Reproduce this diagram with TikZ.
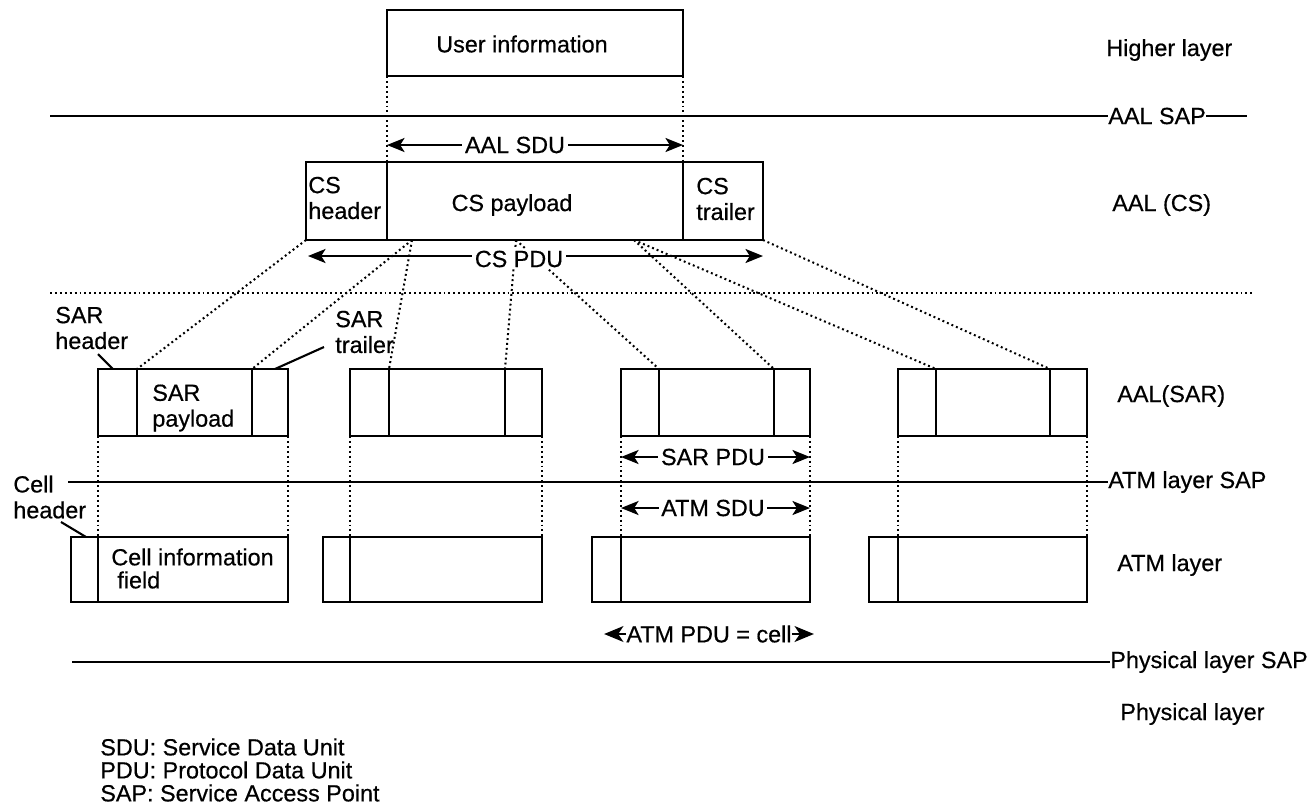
\documentclass[tikz,border=0pt]{standalone}
\usepackage{fontspec}
\setmainfont{Liberation Sans}[FakeBold=0.5]
\usetikzlibrary{arrows.meta}
\begin{document}
\begin{tikzpicture}[x=0.02cm,y=-0.02cm,
  box/.style={line width=1.3pt},
  sap/.style={line width=1.4pt},
  dots/.style={line width=1.15pt, dash pattern=on 1.1pt off 1.7pt},
  lbl/.style={font=\fontsize{13.3}{14.7}\selectfont, inner sep=0pt, align=left},
  wl/.style={lbl, anchor=west},
  tag/.style={lbl, fill=white, inner xsep=1.5pt, inner ysep=1pt},
  span/.style={line width=1.2pt, {Stealth[length=10pt,width=8pt,inset=2.5pt]}-{Stealth[length=10pt,width=8pt,inset=2.5pt]}},
  leader/.style={line width=1.2pt}]
\useasboundingbox (0,0) rectangle (1311,806);

% ---- higher layer: user information
\draw[box] (387,10) rectangle (683,76);
\node[lbl] (user) at (522,44) {User information};
\node[wl] (hl) at (1106,50) {Higher layer};

% ---- AAL SAP
\node[wl] (aalsap) at (1108,116) {AAL SAP};
\coordinate (aalsapL) at (50,116);
\coordinate (aalsapR) at (1247,116);
\draw[sap] (aalsapL) -- (aalsap.west);
\draw[sap] (aalsap.east) -- (aalsapR);

% ---- CS PDU
\coordinate (u0) at (387,76);
\coordinate (u1) at (683,76);
\coordinate (c0) at (387,162);
\coordinate (c1) at (683,162);
\draw[dots] (u0) -- (c0);
\draw[dots] (u1) -- (c1);

\draw[box] (306,162) rectangle (763,240);
\draw[box] (387,162) -- (387,240);
\draw[box] (683,162) -- (683,240);

\node[wl] (csh) at (308,198) {CS\\header};
\node[lbl] (csp) at (512,205) {CS payload};
\node[wl] (cst) at (696,199) {CS\\trailer};
\node[wl] (aalcs) at (1112,205) {AAL (CS)};

% SAR boxes and ATM cells
\foreach \n/\l/\a/\b/\r/\h in {1/98/137/252/288/71, 2/350/389/505/542/323,
                              3/621/659/774/810/592, 4/898/936/1050/1087/869} {
  \coordinate (sar\n a) at (\a,369);
  \coordinate (sar\n b) at (\b,369);
  \coordinate (sar\n l) at (\l,436);
  \coordinate (sar\n r) at (\r,436);
  \coordinate (atm\n l) at (\l,537);
  \coordinate (atm\n r) at (\r,537);
  \draw[box] (\l,369) rectangle (\r,436);
  \draw[box] (\a,369) -- (\a,436);
  \draw[box] (\b,369) -- (\b,436);
  \draw[box] (\h,537) rectangle (\r,602);
  \draw[box] (\l,537) -- (\l,602);
  \draw[dots] (sar\n l) -- (atm\n l);
  \draw[dots] (sar\n r) -- (atm\n r);
}

% segmentation of the CS PDU into SAR payloads
\coordinate (cs0) at (306,240);
\coordinate (cs1) at (412,240);
\coordinate (cs2) at (516,240);
\coordinate (cs3) at (634,240);
\coordinate (cs4) at (763,240);
\draw[dots] (cs0) -- (sar1a);
\draw[dots] (cs1) -- (sar1b);
\draw[dots] (cs1) -- (sar2a);
\draw[dots] (cs2) -- (sar2b);
\draw[dots] (cs2) -- (sar3a);
\draw[dots] (cs3) -- (sar3b);
\draw[dots] (cs3) -- (sar4a);
\draw[dots] (cs4) -- (sar4b);

% CS / SAR boundary
\coordinate (bdL) at (50,293);
\coordinate (bdR) at (1255,293);
\draw[dots] (bdL) -- (bdR);

% size arrows
\coordinate (sdu0) at (387,145);
\coordinate (sdu1) at (683,145);
\draw[span] (sdu0) -- (sdu1);
\node[tag] (aalsdu) at (515,145) {AAL SDU};

\coordinate (pdu0) at (308,256);
\coordinate (pdu1) at (763,256);
\draw[span] (pdu0) -- (pdu1);
\node[tag] (cspdu) at (519,259) {CS PDU};

\coordinate (sp0) at (621,457);
\coordinate (sp1) at (810,457);
\draw[span] (sp0) -- (sp1);
\node[tag] (sarpdu) at (713,457) {SAR PDU};

\coordinate (as0) at (621,508);
\coordinate (as1) at (810,508);
\draw[span] (as0) -- (as1);
\node[tag] (atmsdu) at (713,508) {ATM SDU};

% labels of the segments
\node[wl] (sarh) at (55,328) {SAR\\header};
\coordinate (sarhA) at (98,354);
\coordinate (sarhB) at (113,369);
\draw[leader] (sarhA) -- (sarhB);

\node[wl] (sart) at (335,332) {SAR\\trailer};
\coordinate (sartA) at (324,347);
\coordinate (sartB) at (275,369);
\draw[leader] (sartA) -- (sartB);

\node[wl] (sarp) at (152,408) {SAR\\payload};
\node[wl] (aalsar) at (1117,396) {AAL(SAR)};

% ATM layer SAP
\node[wl] (atmsap) at (1108,482) {ATM layer SAP};
\coordinate (atmsapL) at (68,482);
\draw[sap] (atmsapL) -- (atmsap.west);

\node[wl] (cellh) at (13,497) {Cell\\header};
\coordinate (cellhA) at (61,522);
\coordinate (cellhB) at (86,537);
\draw[leader] (cellhA) -- (cellhB);

\node[wl] (cif1) at (111,557) {Cell information};
\node[wl] (cif2) at (117,580) {field};
\node[wl] (atml) at (1117,565) {ATM layer};

% ATM PDU
\node[lbl] (atmpdu) at (709,634) {ATM PDU = cell};
\draw[line width=1.2pt,-{Stealth[length=11pt,width=9pt,inset=3pt]}] (atmpdu.west) -- ++(-22,0);
\draw[line width=1.2pt,-{Stealth[length=11pt,width=9pt,inset=3pt]}] (atmpdu.east) -- ++(22,0);

% Physical layer SAP
\node[wl] (physap) at (1110,662) {Physical layer SAP};
\coordinate (physapL) at (72,662);
\draw[sap] (physapL) -- (physap.west);
\node[wl] (phy) at (1120,714) {Physical layer};

% legend
\node[wl] (lg1) at (100,747) {SDU: Service Data Unit};
\node[wl] (lg2) at (100,770) {PDU: Protocol Data Unit};
\node[wl] (lg3) at (100,793) {SAP: Service Access Point};
\end{tikzpicture}
\end{document}
